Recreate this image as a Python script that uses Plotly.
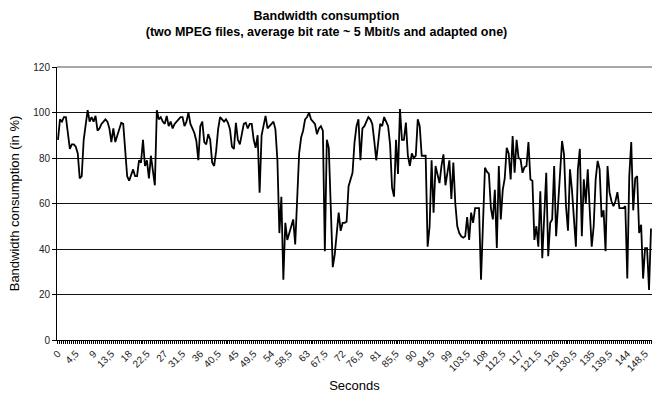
import plotly.graph_objects as go

# Sampling times (s), one sample every 0.5 s
seconds = [i * 0.5 for i in range(301)]

# Bandwidth consumption in percent
consumption = [
    88, 97, 96, 98, 98, 90, 84, 86, 86, 85,
    82, 71, 72, 88, 96, 101, 96, 98, 96, 98.5,
    92, 93, 95, 96, 97, 96, 93, 87, 93, 87,
    90, 93, 95.5, 95, 85, 72, 70, 73, 75, 72,
    72, 79, 78, 88, 76.5, 79, 71, 81, 73.5, 68,
    101, 97, 98, 96, 95, 98.5, 94, 96, 93, 95,
    96, 97, 98, 98, 94, 96, 100, 95, 93, 91,
    87.5, 79, 94, 96, 87, 86, 90.5, 88, 78, 76.5,
    83, 92.6, 98, 97, 96, 97, 95.5, 92.6, 85, 84,
    95.5, 88, 86, 90.5, 95, 95.5, 93, 95, 95, 88,
    84.5, 90, 64.7, 90, 95, 98.5, 93, 94, 95, 96,
    92.6, 79, 47, 63, 26.5, 51.5, 44, 47, 50, 53,
    42, 62, 82, 89, 92, 97, 98, 100, 97, 96,
    95, 90.5, 93, 94, 92, 39, 88, 84.5, 62, 32,
    37.5, 45.5, 56, 48, 51.5, 51.5, 52, 67.6, 71, 73.5,
    86.8, 94, 97, 79, 93, 94, 96, 98, 97, 95,
    87.5, 79, 87, 95, 94, 98, 96, 94, 86, 67,
    63, 88, 73, 101.5, 88, 88, 95.6, 81, 76.5, 82,
    80, 81, 97, 94, 81, 81, 81, 41, 50, 79,
    56, 76.5, 72, 69, 76.5, 81.6, 68, 74, 79, 62,
    78, 60, 50, 47, 45.6, 45, 45.6, 54, 44, 56,
    51.5, 58, 58, 58, 26.5, 50, 75.7, 74, 73, 58,
    53, 66, 40.4, 76.5, 53, 66, 71, 84.5, 82, 70.6,
    89.7, 73.5, 88, 80, 79.4, 73.5, 76, 76.5, 87, 70.6,
    70, 44, 50, 41, 65.4, 36, 53, 73.5, 36.8, 51.5,
    53, 76.5, 45.6, 58.8, 76.5, 87.5, 81.6, 58.8, 48, 75,
    66, 53, 41, 75, 84, 45.6, 70.6, 60, 75, 57,
    41, 50, 70.6, 78.7, 75, 54, 57, 39, 76.5, 65,
    61, 58.8, 61, 65, 58, 58, 58, 58.8, 27, 72,
    87, 57, 71, 72, 47, 50.7, 27, 40.4, 40.4, 22,
    49,
]

# Labelled category positions (every 4.5 s) and y-axis ticks
x_tick_values = [i * 4.5 for i in range(34)]
x_tick_labels = [("%g" % v).replace(".", ",") for v in x_tick_values]
y_tick_values = [0, 20, 40, 60, 80, 100, 120]

FONT = "Liberation Sans, Arial, sans-serif"

fig = go.Figure(
    go.Scatter(
        x=seconds,
        y=consumption,
        mode="lines",
        line=dict(color="black", width=1.8),
        hoverinfo="x+y",
    )
)

fig.update_layout(
    width=653,
    height=396,
    margin=dict(l=57, r=1, t=67, b=56),
    paper_bgcolor="white",
    plot_bgcolor="white",
    showlegend=False,
    font=dict(family=FONT, color="black", size=10),
    title=dict(
        text="<b>Bandwidth consumption</b><br><b>(two MPEG files, average bit rate ~ 5 Mbit/s and adapted one)</b>",
        x=0.5,
        xref="container",
        xanchor="center",
        y=1 - 20 / 396,
        yref="container",
        yanchor="middle",
        font=dict(family=FONT, size=12.5, color="black"),
    ),
    # grey plot-area border along the top
    shapes=[
        dict(type="line", xref="paper", yref="paper", x0=0, x1=1, y0=1, y1=1,
             line=dict(color="#8a8a8a", width=1.5), layer="above"),
    ],
)

fig.update_xaxes(
    range=[-0.25, 150.25],
    tickmode="array",
    tickvals=x_tick_values,
    ticktext=x_tick_labels,
    tickangle=-45,
    tickfont=dict(size=10, color="#222"),
    ticks="outside",
    ticklen=3,
    tickcolor="black",
    minor=dict(dtick=0.5, tick0=0, ticks="outside", ticklen=3, tickcolor="black", showgrid=False),
    showline=True,
    linecolor="black",
    linewidth=1,
    showgrid=False,
    zeroline=False,
    title=dict(text="Seconds", font=dict(family=FONT, size=13, color="black"), standoff=8),
)

fig.update_yaxes(
    range=[0, 120],
    tickmode="array",
    tickvals=y_tick_values,
    tickfont=dict(size=10, color="#222"),
    ticks="outside",
    ticklen=4,
    tickcolor="black",
    showline=True,
    linecolor="black",
    linewidth=1,
    showgrid=True,
    gridcolor="#111",
    gridwidth=1,
    zeroline=False,
    title=dict(text="Bandwidth consumption (in %)", font=dict(family=FONT, size=13, color="black"), standoff=10),
)

fig.write_html("out.html")
